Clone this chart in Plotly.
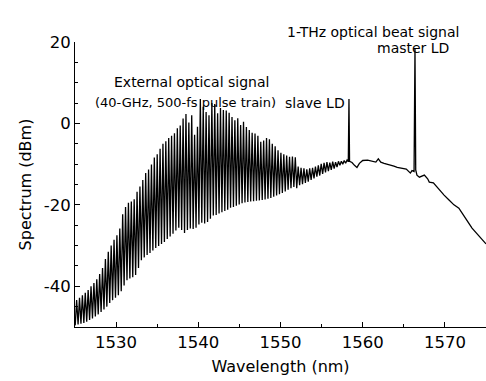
import plotly.graph_objects as go

# ---- comb lines of the external optical signal (40-GHz pulse train) ----
comb_nm = [1525.20, 1525.55, 1525.90, 1526.25, 1526.60, 1526.95, 1527.30, 1527.65, 1528.00, 1528.35,
           1528.70, 1529.05, 1529.40, 1529.75, 1530.10, 1530.45, 1530.80, 1531.15, 1531.50, 1531.85,
           1532.20, 1532.55, 1532.90, 1533.25, 1533.60, 1533.95, 1534.30, 1534.65, 1535.00, 1535.35,
           1535.70, 1536.05, 1536.40, 1536.75, 1537.10, 1537.45, 1537.80, 1538.15, 1538.50, 1538.85,
           1539.20, 1539.55, 1539.90, 1540.25, 1540.60, 1540.95, 1541.30, 1541.65, 1542.00, 1542.35,
           1542.70, 1543.05, 1543.40, 1543.75, 1544.10, 1544.45, 1544.80, 1545.15, 1545.50, 1545.85,
           1546.20, 1546.55, 1546.90, 1547.25, 1547.60, 1547.95, 1548.30, 1548.65, 1549.00, 1549.35,
           1549.70, 1550.05, 1550.40, 1550.75, 1551.10, 1551.45, 1551.80, 1552.15, 1552.50, 1552.85,
           1553.20, 1553.55, 1553.90, 1554.25, 1554.60, 1554.95, 1555.30, 1555.65, 1556.00, 1556.35,
           1556.70, 1557.05, 1557.40, 1557.75, 1558.10]
comb_peak_dbm = [-43.4, -42.8, -42.2, -41.6, -40.9, -40.0, -39.2, -38.3, -37.0, -35.5,
                 -33.3, -31.5, -30.0, -28.6, -27.5, -25.8, -22.3, -20.5, -19.5, -19.2,
                 -18.6, -16.8, -15.5, -13.9, -12.2, -11.3, -10.1, -8.4, -7.6, -6.2,
                 -5.0, -4.4, -3.6, -3.0, -2.4, -1.2, -0.5, 1.2, 2.3, 0.2,
                 2.0, -2.8, -0.8, 6.0, 4.1, 2.8, 2.0, 5.0, 4.8, 2.5,
                 3.8, 3.3, 3.2, 2.6, 1.6, 0.8, 1.3, -0.4, 0.4, -0.9,
                 -1.6, -2.3, -2.5, -3.0, -4.5, -4.2, -3.6, -3.9, -5.0, -5.6,
                 -6.6, -7.2, -7.6, -7.9, -8.2, -8.1, -8.3, -10.6, -10.9, -11.0,
                 -11.3, -11.0, -10.9, -10.6, -10.3, -9.9, -9.7, -9.5, -9.6, -9.4,
                 -9.5, -9.3, -9.3, -9.1, -9.0]
# floor level just before each comb line
comb_floor_dbm = [-49.6, -49.4, -49.2, -49.0, -48.7, -48.3, -47.9, -47.4, -46.9, -46.3,
                  -45.7, -45.0, -44.1, -43.4, -42.8, -42.2, -41.2, -39.8, -38.5, -38.1,
                  -37.8, -37.2, -35.5, -33.6, -32.9, -32.3, -31.8, -31.2, -30.6, -30.1,
                  -29.6, -29.1, -28.4, -27.8, -27.1, -26.3, -25.6, -26.2, -26.9, -26.2,
                  -25.8, -25.9, -25.6, -24.8, -24.4, -24.6, -24.2, -23.4, -22.6, -22.5,
                  -22.1, -21.8, -21.5, -21.2, -20.7, -20.5, -20.2, -19.9, -19.6, -19.4,
                  -19.3, -19.2, -19.1, -19.0, -18.9, -18.8, -18.7, -18.5, -18.3, -18.0,
                  -17.7, -17.4, -17.1, -16.7, -16.3, -15.9, -15.6, -15.9, -15.2, -14.9,
                  -14.6, -14.3, -13.9, -13.5, -13.1, -12.8, -12.4, -12.0, -11.7, -11.4,
                  -11.1, -10.7, -10.3, -10.0, -9.8]

# ---- continuum with slave LD and master LD lines ----
cont_nm = [1558.25, 1558.33, 1558.40, 1558.7, 1559.0, 1559.3, 1559.6, 1560.0, 1560.6, 1561.2,
           1561.6, 1561.9, 1562.2, 1562.6, 1563.2, 1563.8, 1564.2, 1564.7, 1565.3, 1565.8,
           1566.0, 1566.25, 1566.36, 1566.45, 1566.6, 1566.9, 1567.5, 1567.9, 1568.1, 1568.6,
           1569.0, 1569.3, 1569.9, 1570.5, 1571.1, 1571.7, 1572.3, 1572.9, 1573.3, 1573.8,
           1574.3, 1575.0]
cont_dbm = [-9.4, 6.0, -9.3, -9.6, -10.3, -10.8, -9.8, -9.1, -9.0, -9.2,
            -9.5, -8.7, -9.5, -9.8, -10.1, -10.5, -10.8, -11.0, -11.2, -12.2,
            -11.6, -11.8, 18.5, -11.4, -12.7, -13.2, -12.7, -13.6, -14.4, -14.6,
            -15.6, -16.3, -17.6, -18.8, -20.0, -20.8, -22.5, -24.5, -25.7, -26.9,
            -28.2, -29.6]

y_tickvals = [-40, -20, 0, 20]
y_ticktext = ["-40", "-20", "0", "20"]
x_tickvals = [1530, 1540, 1550, 1560, 1570]

# assemble the trace: floor point before each line, then the line peak
xs, ys = [], []
for i, (lam, pk, fl) in enumerate(zip(comb_nm, comb_peak_dbm, comb_floor_dbm)):
    prev = comb_nm[i - 1] if i > 0 else lam - (comb_nm[1] - comb_nm[0])
    xs.append((prev + lam) / 2)
    ys.append(fl)
    xs.append(lam)
    ys.append(pk)
xs += cont_nm
ys += cont_dbm

font_main = "DejaVu Sans, Noto Sans CJK JP, sans-serif"

fig = go.Figure()
fig.add_trace(go.Scatter(x=xs, y=ys, mode="lines",
                         line=dict(color="black", width=1.3),
                         hoverinfo="skip", showlegend=False))

# (text, x in nm, y in paper units, font size)
ann = [
    ("External optical signal", 1539.2, 0.895, 14),
    ("(40-GHz, 500-fs pulse train)", 1538.4, 0.821, 13),
    ("slave LD", 1554.15, 0.821, 14),
    ("1-THz optical beat signal", 1561.3, 1.070, 14),
    ("master LD", 1566.06, 1.014, 14),
]
for t, ax, ay, fs in ann:
    fig.add_annotation(x=ax, y=ay, xref="x", yref="paper", text=t, showarrow=False,
                       font=dict(family=font_main, size=fs, color="black"))

fig.update_layout(
    width=486, height=381,
    margin=dict(l=75, r=0, t=42, b=54),
    paper_bgcolor="white", plot_bgcolor="white",
    font=dict(family=font_main, size=16, color="black"),
    xaxis=dict(range=[1525, 1575], tickvals=x_tickvals, showgrid=False, zeroline=False,
               showline=True, linecolor="black", linewidth=1, ticks="inside", ticklen=5,
               tickcolor="black", tickfont=dict(size=16.5),
               minor=dict(dtick=5, ticks="inside", ticklen=3, tickcolor="black", showgrid=False),
               title=dict(text="Wavelength (nm)", font=dict(size=16), standoff=10)),
    yaxis=dict(range=[-50, 20], tickvals=y_tickvals, ticktext=y_ticktext, showgrid=False,
               zeroline=False, showline=True, linecolor="black", linewidth=1, ticks="inside",
               ticklen=5, tickcolor="black", tickfont=dict(size=16.5),
               minor=dict(dtick=5, ticks="inside", ticklen=3, tickcolor="black", showgrid=False),
               title=dict(text="Spectrum (dBm)", font=dict(size=16), standoff=8)),
)

fig.write_html("out.html")
